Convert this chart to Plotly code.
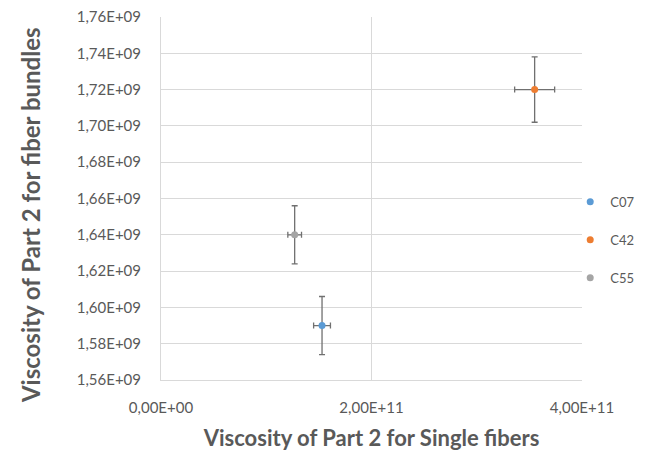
import plotly.graph_objects as go

series = ["C07", "C42", "C55"]
x_vals = [1.53e11, 3.55e11, 1.27e11]
y_vals = [1.590e9, 1.720e9, 1.640e9]
x_err = [0.8e10, 1.9e10, 0.65e10]
y_err = [0.016e9, 0.018e9, 0.016e9]
colors = ["#5B9BD5", "#ED7D31", "#A5A5A5"]

y_ticks = [1.56e9, 1.58e9, 1.60e9, 1.62e9, 1.64e9, 1.66e9, 1.68e9, 1.70e9, 1.72e9, 1.74e9, 1.76e9]
y_labels = ["1,56E+09", "1,58E+09", "1,60E+09", "1,62E+09", "1,64E+09", "1,66E+09",
            "1,68E+09", "1,70E+09", "1,72E+09", "1,74E+09", "1,76E+09"]
x_ticks = [0, 2e11, 4e11]
x_labels = ["0,00E+00", "2,00E+11", "4,00E+11"]

font = "Lato, 'Open Sans', sans-serif"
fig = go.Figure()
for name, xv, yv, xe, ye, c in zip(series, x_vals, y_vals, x_err, y_err, colors):
    fig.add_trace(go.Scatter(
        x=[xv], y=[yv], mode="markers", name=name, legendgroup=name,
        marker=dict(color=c, size=7),
        error_x=dict(type="data", array=[xe], color="#707070", thickness=1.3, width=3),
        error_y=dict(type="data", array=[ye], color="#707070", thickness=1.3, width=3),
    ))

fig.add_annotation(
    text="<b>Viscosity of Part 2 for fiber bundles</b>",
    xref="paper", yref="paper", x=-0.311, y=0.4545,
    xanchor="center", yanchor="middle", textangle=-90, showarrow=False,
    font=dict(size=24, color="#595959", family=font),
)

fig.update_layout(
    width=646, height=454,
    margin=dict(l=161, r=64, t=17, b=74, autoexpand=False),
    plot_bgcolor="white", paper_bgcolor="white",
    font=dict(family=font, color="#595959", size=15),
    legend=dict(x=0.972, y=0.386, xanchor="left", yanchor="middle",
                font=dict(size=13, color="#595959"), bgcolor="rgba(0,0,0,0)",
                tracegroupgap=18, itemwidth=30),
    xaxis=dict(range=[0, 4e11], tickvals=x_ticks, ticktext=x_labels,
               showgrid=True, gridcolor="#D9D9D9", zeroline=False,
               showline=True, linecolor="#D9D9D9", ticks="",
               ticklabelstandoff=14,
               title=dict(text="<b>Viscosity of Part 2 for Single fibers</b>",
                          font=dict(size=22, color="#595959"), standoff=15)),
    yaxis=dict(range=[1.56e9, 1.76e9], tickvals=y_ticks, ticktext=y_labels,
               showgrid=True, gridcolor="#D9D9D9", zeroline=False,
               showline=True, linecolor="#D9D9D9", ticks="",
               ticklabelstandoff=16),
)
fig.write_html("out.html")
